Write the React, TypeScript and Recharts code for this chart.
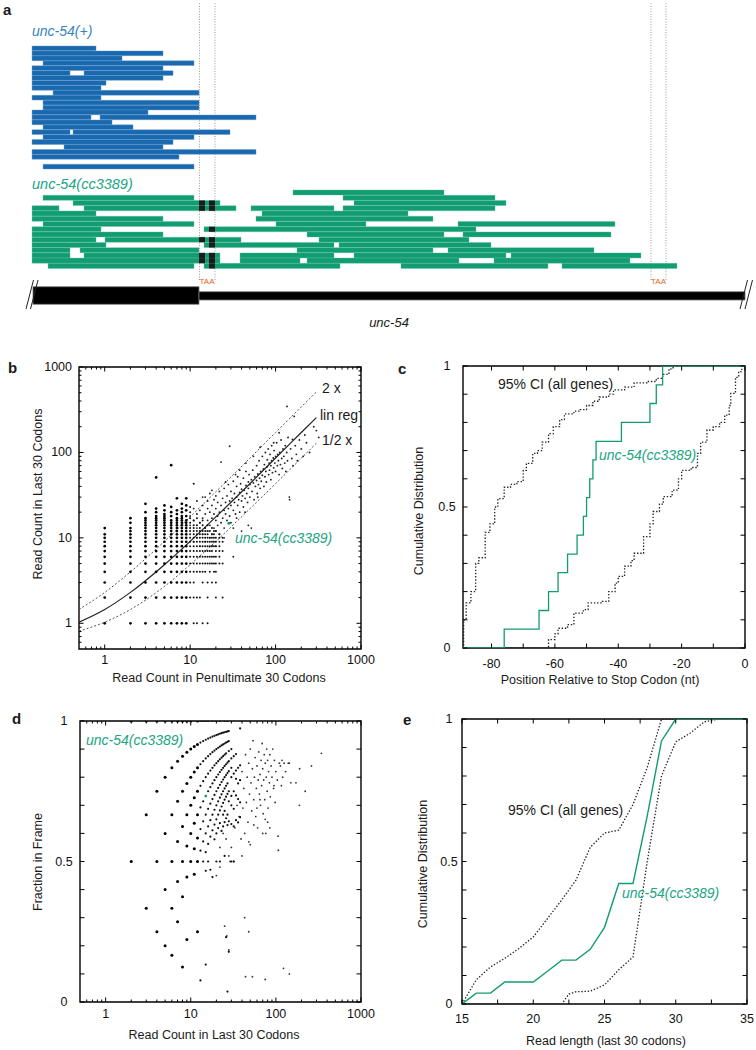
import React from 'react';
import { ComposedChart, Scatter, Line, XAxis, YAxis, ReferenceArea, ReferenceLine } from 'recharts';

const FONT = '"Liberation Sans", Arial, Helvetica, sans-serif';
const GREEN = '#129c72';
const GREEN_TEXT = '#22a582';
const BLUE = '#1a69ae';
const BLUE_TEXT = '#3683c4';
const ORANGE = '#e2661d';

// ---------------- panel a : read alignments ----------------
// [row, start, end] in genomic position units
const blueReads: number[][] = [
  [0, 32, 96], [1, 32, 163], [2, 32, 122], [3, 43, 194], [4, 32, 163],
  [5, 32, 70], [5, 84, 173], [6, 32, 163], [7, 32, 106], [8, 32, 101],
  [9, 53, 199], [10, 32, 101], [11, 43, 199], [12, 43, 199], [13, 32, 148],
  [14, 32, 91], [14, 100, 256], [15, 32, 112], [16, 43, 133], [17, 32, 70],
  [17, 73, 230], [18, 43, 194], [19, 32, 173], [20, 64, 163], [21, 32, 256],
  [22, 32, 179], [24, 43, 194],
];
const greenReads: number[][] = [
  [0, 293, 444],
  [1, 43, 194], [1, 343, 495],
  [2, 73, 220], [2, 354, 506],
  [3, 32, 59], [3, 84, 236], [3, 251, 334], [3, 343, 495],
  [4, 32, 96], [4, 262, 408],
  [5, 32, 163], [5, 256, 433],
  [6, 43, 194], [6, 276, 366], [6, 458, 615],
  [7, 32, 101], [7, 204, 476],
  [8, 32, 163], [8, 307, 444], [8, 463, 611],
  [9, 32, 96], [9, 105, 241], [9, 319, 469],
  [10, 32, 106], [10, 204, 334], [10, 339, 491],
  [11, 32, 70], [11, 80, 199], [11, 297, 433], [11, 448, 594],
  [12, 32, 70], [12, 84, 220], [12, 240, 334], [12, 354, 506], [12, 511, 641],
  [13, 32, 220], [13, 240, 300], [13, 307, 459], [13, 494, 630],
  [14, 48, 194], [14, 204, 340], [14, 401, 548], [14, 562, 677],
];
const greenMismatches: number[][] = [
  [2, 199, 205], [2, 209, 215], [3, 199, 205], [3, 209, 215], [7, 209, 215],
  [9, 199, 205], [9, 209, 215], [10, 209, 215], [12, 199, 205], [12, 209, 215],
  [13, 199, 205], [13, 209, 215], [14, 209, 215],
];
const stopCodonGuides = [199.5, 215, 651, 666];
const geneCds = [33, 199];
const geneUtr = [199, 745];
const geneBreaks = [26, 30.5, 740, 745];
const taaPositions = [207, 658.5];

// ---------------- panel b ----------------
const logTicks = [0.6, 0.7, 0.8, 0.9, 1, 2, 3, 4, 5, 6, 7, 8, 9, 10, 20, 30, 40, 50, 60, 70, 80, 90, 100, 200, 300, 400, 500, 600, 700, 800, 900, 1000];
const logMajor = [1, 10, 100, 1000];
const logLabels = [1, 10, 100, 1000];

const gridColumnsB: { x: number; ys: number[] }[] = [
  { x: 1, ys: [1, 2, 3, 4, 5, 6, 7, 8, 9, 10, 11, 13] },
  { x: 2, ys: [1, 2, 3, 4, 5, 6, 7, 8, 9, 10, 11, 12, 13, 15, 17] },
  { x: 3, ys: [1, 2, 3, 4, 5, 6, 7, 8, 9, 10, 11, 12, 13, 14, 15, 16, 17, 20, 25] },
  { x: 4, ys: [1, 2, 3, 4, 5, 6, 7, 8, 9, 10, 11, 12, 13, 14, 15, 16, 17, 18, 20, 22, 51] },
  { x: 5, ys: [1, 2, 3, 4, 5, 6, 7, 8, 9, 10, 11, 12, 13, 14, 15, 16, 17, 18, 19, 21, 24] },
  { x: 6, ys: [1, 2, 3, 4, 5, 6, 7, 8, 9, 10, 11, 12, 13, 14, 15, 16, 18, 20, 23, 71] },
  { x: 7, ys: [1, 2, 3, 4, 5, 6, 7, 8, 9, 10, 11, 12, 13, 14, 15, 16, 17, 19, 21, 29] },
  { x: 8, ys: [1, 2, 3, 4, 5, 6, 7, 8, 9, 10, 11, 12, 13, 14, 15, 16, 17, 18, 20, 22, 25] },
  { x: 9, ys: [1, 2, 3, 4, 5, 6, 7, 8, 9, 10, 11, 12, 13, 14, 15, 16, 18, 21, 24, 29] },
  { x: 10, ys: [2, 3, 4, 5, 6, 7, 8, 9, 10, 11, 12, 13, 15, 17, 20, 23] },
  { x: 11, ys: [1, 2, 3, 4, 5, 6, 7, 8, 9, 10, 11, 12, 13, 14, 16, 43] },
  { x: 12, ys: [1, 2, 4, 5, 6, 7, 8, 9, 10, 11, 12, 14, 17] },
  { x: 13, ys: [2, 4, 5, 6, 7, 8, 9, 10, 11, 12, 13, 15] },
  { x: 14, ys: [1, 3, 4, 5, 6, 7, 8, 9, 10, 11, 12, 14, 16] },
  { x: 15, ys: [4, 5, 6, 7, 8, 9, 10, 11, 12, 13] },
  { x: 16, ys: [1, 2, 3, 5, 6, 7, 8, 9, 10, 11, 12, 14] },
  { x: 17, ys: [4, 5, 6, 7, 8, 9, 10, 12] },
  { x: 18, ys: [3, 5, 6, 7, 8, 9, 10, 11, 13] },
  { x: 19, ys: [4, 5, 6, 8, 9, 10, 11, 12] },
  { x: 20, ys: [2, 3, 4, 5, 6, 7, 8, 9, 10, 12] },
  { x: 22, ys: [5, 6, 7, 8, 10, 11] },
  { x: 24, ys: [2, 5, 7, 9, 10] },
];
const cloudB: number[][] = [
  [10, 14], [10, 18], [11, 9], [11, 16], [11, 22], [12, 10], [12, 13], [12, 19], [12, 27], [13, 8], [13, 15], [13, 21],
  [14, 11], [14, 17], [14, 24], [15, 9], [15, 13], [15, 19], [15, 30], [16, 12], [16, 16], [16, 22], [16, 27], [17, 10],
  [17, 14], [17, 20], [17, 33], [18, 11], [18, 17], [18, 24], [19, 13], [19, 19], [19, 28], [20, 12], [20, 16], [20, 22],
  [20, 31], [21, 14], [21, 18], [21, 26], [22, 11], [22, 20], [22, 35], [23, 15], [23, 24], [24, 17], [24, 29], [25, 13],
  [25, 21], [25, 38], [26, 19], [26, 26], [27, 16], [27, 31], [28, 22], [28, 42], [29, 18], [29, 27], [30, 24], [30, 35],
  [30, 15], [31, 29], [32, 21], [32, 46], [33, 26], [33, 33], [34, 19], [35, 30], [35, 40], [36, 24], [36, 52], [37, 28],
  [38, 34], [38, 20], [39, 43], [40, 27], [40, 37], [41, 31], [42, 50], [42, 23], [43, 36], [44, 29], [45, 41], [45, 60],
  [46, 33], [47, 26], [48, 45], [48, 38], [49, 55], [50, 30], [50, 42], [52, 48], [53, 35], [54, 62], [55, 44], [56, 28],
  [57, 52], [58, 40], [60, 70], [60, 47], [61, 33], [62, 56], [63, 42], [64, 80], [65, 50], [66, 38], [67, 60], [68, 46],
  [70, 90], [70, 54], [72, 64], [73, 40], [74, 72], [75, 52], [76, 100], [77, 60], [78, 45], [80, 68], [80, 82], [82, 110],
  [83, 55], [84, 75], [85, 62], [86, 95], [88, 48], [88, 70], [90, 80], [90, 120], [92, 58], [94, 86], [95, 66], [96, 105],
  [98, 75], [100, 90], [100, 60], [103, 130], [105, 70], [106, 95], [108, 80], [110, 55], [112, 100], [114, 72], [116, 140],
  [118, 85], [120, 65], [122, 110], [125, 90], [128, 75], [130, 120], [132, 60], [135, 100], [138, 80], [140, 150], [145, 30],
  [146, 28], [150, 110], [155, 85], [158, 142], [160, 70], [165, 264], [170, 120], [175, 95], [180, 80], [190, 140], [200, 110],
  [210, 90], [220, 160], [230, 130], [250, 100], [280, 200], [136, 346], [300, 180], [320, 150], [29, 118], [23, 77],
  [32, 13], [40, 12], [48, 14], [52, 13], [32, 6], [20, 8], [22, 9], [25, 10], [18, 8], [35, 17], [44, 20], [62, 30],
  [26, 45], [18, 36], [14, 30], [55, 90], [66, 115], [95, 130], [110, 170], [45, 75], [38, 62], [34, 55],
];
const focalB = [{ x: 28.4, y: 14.8 }];
const fitX = [0.5, 1, 2, 5, 10, 20, 50, 100, 200, 300];
const linRegY = [1.03, 1.45, 2.3, 4.85, 9.1, 17.6, 43, 86, 171, 256];
const twoXY = [1.45, 2.3, 4.0, 9.1, 17.6, 34.6, 85.6, 171, 341, 510];
const halfXY = [0.81, 1.03, 1.45, 2.7, 4.85, 9.1, 21.9, 43.1, 85.6, 128];

// ---------------- panel c ----------------
const posTicks = [-80, -70, -60, -50, -40, -30, -20, -10, 0];
const posLabels = [-80, -60, -40, -20, 0];
const fracTicks = [0, 0.1, 0.2, 0.3, 0.4, 0.5, 0.6, 0.7, 0.8, 0.9, 1];
const fracLabels = [0, 0.5, 1];
const stopPosGreen: number[][] = [
  [-89, 0], [-76, 0.067], [-65, 0.133], [-62, 0.2], [-59, 0.267], [-56, 0.333], [-53, 0.4], [-51, 0.467],
  [-50, 0.533], [-49, 0.6], [-48, 0.667], [-47, 0.733], [-39, 0.8], [-30, 0.867], [-28, 0.933], [-26, 1], [0, 1],
];
const stopPosCiHigh: number[][] = [
  [-89, 0], [-88.8, 0.1], [-88, 0.16], [-86.5, 0.2], [-85, 0.3], [-84, 0.32], [-82, 0.41], [-80.5, 0.44], [-79, 0.5],
  [-78, 0.53], [-76, 0.57], [-74, 0.58], [-72, 0.59], [-70, 0.63], [-69, 0.655], [-67, 0.69], [-65.5, 0.7], [-64, 0.73],
  [-62, 0.76], [-60.5, 0.785], [-58.5, 0.81], [-57, 0.83], [-54, 0.84], [-52, 0.845], [-50, 0.86], [-48, 0.875],
  [-46, 0.89], [-43, 0.9], [-41.5, 0.915], [-38, 0.925], [-35, 0.94], [-31, 0.945], [-28, 0.956], [-26, 0.97],
  [-24, 0.99], [-22.7, 1], [0, 1],
];
const stopPosCiLow: number[][] = [
  [-89, 0], [-62, 0.03], [-60, 0.05], [-59, 0.07], [-56, 0.083], [-54, 0.124], [-51, 0.136], [-49.5, 0.16],
  [-45, 0.165], [-43, 0.2], [-41, 0.23], [-40, 0.254], [-38, 0.29], [-36, 0.31], [-35, 0.336], [-32, 0.395],
  [-30, 0.44], [-29, 0.484], [-27, 0.51], [-25.8, 0.537], [-23, 0.56], [-21, 0.6], [-20, 0.63], [-17, 0.64],
  [-15, 0.69], [-14, 0.73], [-12, 0.773], [-10, 0.785], [-8, 0.8], [-6.4, 0.826], [-5, 0.86], [-4.5, 0.903],
  [-3, 0.96], [-2, 0.98], [-1, 1], [0, 1],
];

// ---------------- panel d ----------------
const frameArcs: { n: number; k: number[] }[] = [
  { n: 2, k: [1, 2] },
  { n: 3, k: [1, 2, 3] },
  { n: 4, k: [1, 2, 3, 4] },
  { n: 5, k: [1, 2, 3, 4, 5] },
  { n: 6, k: [1, 2, 3, 4, 5, 6] },
  { n: 7, k: [2, 3, 4, 5, 6, 7] },
  { n: 8, k: [1, 3, 4, 5, 6, 7, 8] },
  { n: 9, k: [2, 4, 5, 6, 7, 8, 9] },
  { n: 10, k: [5, 6, 7, 8, 9, 10] },
  { n: 11, k: [5, 6, 7, 8, 9, 10] },
  { n: 12, k: [3, 6, 7, 8, 9, 10, 11, 12] },
];
const frameArcsHigh: { n: number; k: number[] }[] = [
  { n: 13, k: [1, 7, 8, 9, 10, 11, 12, 13] },
  { n: 14, k: [7, 8, 9, 10, 11, 12, 13, 14] },
  { n: 15, k: [2, 7, 8, 9, 10, 12, 13, 14, 15] },
  { n: 16, k: [8, 9, 10, 11, 12, 13, 14, 15, 16] },
  { n: 17, k: [8, 10, 11, 12, 13, 14, 15, 16] },
  { n: 18, k: [8, 11, 12, 13, 14, 15, 16, 17, 18] },
  { n: 19, k: [11, 12, 13, 14, 15, 16, 17, 18] },
  { n: 20, k: [10, 12, 13, 14, 15, 16, 17, 18, 19, 20] },
  { n: 21, k: [13, 14, 15, 16, 17, 18, 19, 20] },
  { n: 22, k: [11, 14, 15, 16, 17, 18, 19, 20, 21, 22] },
  { n: 23, k: [14, 16, 17, 18, 19, 20, 21, 22] },
  { n: 24, k: [15, 16, 17, 18, 19, 20, 21, 22, 23] },
  { n: 25, k: [13, 16, 17, 18, 19, 20, 21, 22, 23, 24, 25] },
  { n: 26, k: [6, 17, 19, 20, 21, 22, 23, 24, 25] },
  { n: 27, k: [1, 17, 18, 20, 21, 22, 23, 25, 26, 27] },
  { n: 28, k: [5, 18, 20, 21, 23, 24, 25, 26, 27] },
  { n: 30, k: [15, 19, 21, 22, 24, 25, 26, 27] },
  { n: 32, k: [16, 20, 22, 24, 26, 28] },
  { n: 34, k: [22, 25, 27, 28, 30] },
  { n: 36, k: [23, 26, 28, 30] },
  { n: 38, k: [25, 27, 30, 32, 37] },
];
const frameCloud: number[][] = [
  [40, 0.82], [42, 0.76], [44, 0.88], [45, 0.71], [46, 0.8], [47, 0.64], [48, 0.85], [49, 0.74], [50, 0.9], [51, 0.78],
  [52, 0.68], [53, 0.83], [54, 0.93], [55, 0.72], [56, 0.8], [57, 0.87], [58, 0.66], [59, 0.76], [60, 0.84], [61, 0.62],
  [62, 0.79], [63, 0.89], [64, 0.74], [65, 0.81], [66, 0.7], [67, 0.86], [68, 0.77], [69, 0.92], [70, 0.83], [71, 0.67],
  [72, 0.79], [73, 0.88], [74, 0.72], [75, 0.85], [76, 0.6], [77, 0.8], [78, 0.9], [79, 0.75], [80, 0.86], [81, 0.69],
  [82, 0.82], [84, 0.78], [85, 0.88], [86, 0.73], [88, 0.84], [90, 0.8], [92, 0.9], [94, 0.76], [96, 0.86], [98, 0.71],
  [100, 0.82], [104, 0.79], [107, 0.54], [110, 0.85], [113, 0.84], [116, 0.77], [120, 0.8], [125, 0.85], [130, 0.82],
  [140, 0.85], [144, 0.85], [150, 0.78], [190, 0.83], [172, 0.78], [189, 0.7], [221, 0.75], [262, 0.84], [343, 0.885],
  [106, 0.59], [32, 0.5], [33, 0.62], [35, 0.7], [37, 0.66], [39, 0.58], [40, 0.52], [41, 0.69], [43, 0.6], [48, 0.57],
  [50, 0.56], [55, 0.63], [60, 0.69], [65, 0.72], [70, 0.6], [75, 0.65], [80, 0.64], [85, 0.62], [26.5, 0.235],
  [28, 0.185], [43, 0.3], [48, 0.25], [44, 0.09], [53, 0.09], [75, 0.08], [123, 0.12], [144, 0.1], [25, 0.27],
  [22, 0.55], [24, 0.6], [26, 0.58], [28, 0.52], [29, 0.5], [30, 0.55], [20, 0.45], [22, 0.48], [118, 0.86], [95, 0.77],
];
const focalD = [{ x: 15, y: 0.733 }];

// ---------------- panel e ----------------
const lenTicks = [15, 17.5, 20, 22.5, 25, 27.5, 30, 32.5, 35];
const lenLabels = [15, 20, 25, 30, 35];
const lenGreen: number[][] = [
  [15, 0], [16, 0.038], [17, 0.038], [18, 0.077], [19, 0.077], [20, 0.077], [21, 0.115], [22, 0.154], [23, 0.154],
  [24, 0.192], [25, 0.269], [26, 0.423], [27, 0.423], [28, 0.66], [29, 0.923], [30, 1], [35, 1],
];
const lenCiHigh: number[][] = [
  [15, 0], [16, 0.085], [17, 0.13], [18, 0.16], [19, 0.195], [20, 0.235], [21, 0.3], [22, 0.365], [23, 0.435],
  [24, 0.55], [25, 0.6], [26, 0.61], [27, 0.7], [28, 0.83], [29, 1], [35, 1],
];
const lenCiLow: number[][] = [
  [15, 0], [22, 0], [22.5, 0.035], [23, 0.043], [24, 0.045], [25, 0.067], [26, 0.12], [27, 0.165], [28, 0.5],
  [29, 0.8], [30, 0.92], [31, 0.95], [32, 0.99], [33, 1], [35, 1],
];

// ---------------- helpers ----------------
const toXY = (arr: number[][]) => arr.map(([x, y]) => ({ x, y }));
const near = (list: number[], v: number) => list.some((m) => Math.abs(m - v) < 1e-9);

const dotShape = (r: number, fill: string) => (p: any) =>
  p.cx == null ? <g /> : <circle cx={p.cx} cy={p.cy} r={r} fill={fill} />;

type TxtProps = {
  x: number; y: number; children: React.ReactNode; size?: number; color?: string;
  italic?: boolean; bold?: boolean; anchor?: 'start' | 'middle'; rotate?: boolean;
};
const Txt = ({ x, y, children, size = 12.5, color = '#1a1a1a', italic, bold, anchor = 'start', rotate }: TxtProps) => (
  <div
    style={{
      position: 'absolute', left: x, top: y, whiteSpace: 'nowrap', lineHeight: 1, fontFamily: FONT,
      fontSize: size, color, fontStyle: italic ? 'italic' : 'normal', fontWeight: bold ? 700 : 400,
      transform: rotate ? 'translate(-50%,-50%) rotate(-90deg)' : anchor === 'middle' ? 'translate(-50%,-50%)' : 'translate(0,-50%)',
    }}
  >
    {children}
  </div>
);

const PAD_L = 60, PAD_R = 12, PAD_T = 12, PAD_B = 30;

type PanelProps = {
  left: number; top: number; w: number; h: number;
  xDomain: [number, number]; yDomain: [number, number];
  xLog?: boolean; yLog?: boolean;
  xTicks: number[]; xLabels: number[]; xMajor?: number[];
  yTicks: number[]; yLabels: number[]; yMajor?: number[];
  xDy: number; yDx: number; yAnchor: 'end' | 'middle';
  children?: React.ReactNode;
};

function Panel(props: PanelProps) {
  const { left, top, w, h, xDomain, yDomain, xLog, yLog, xTicks, xLabels, xMajor, yTicks, yLabels, yMajor, xDy, yDx, yAnchor } = props;
  const majorLen = 4.5, minorLen = 2.5;
  const xTick = (p: any) => {
    const { x, y, payload } = p;
    const v = payload.value;
    const L = !xMajor || near(xMajor, v) ? majorLen : minorLen;
    return (
      <g>
        <line x1={x} x2={x} y1={y} y2={y - L} stroke="#000" strokeWidth={1} />
        <line x1={x} x2={x} y1={y - h} y2={y - h + L} stroke="#000" strokeWidth={1} />
        {near(xLabels, v) && (
          <text x={x} y={y + xDy} textAnchor="middle" dominantBaseline="central" fontFamily={FONT} fontSize={12.5} fill="#111">
            {String(v)}
          </text>
        )}
      </g>
    );
  };
  const yTick = (p: any) => {
    const { x, y, payload } = p;
    const v = payload.value;
    const L = !yMajor || near(yMajor, v) ? majorLen : minorLen;
    return (
      <g>
        <line x1={x} x2={x + L} y1={y} y2={y} stroke="#000" strokeWidth={1} />
        <line x1={x + w} x2={x + w - L} y1={y} y2={y} stroke="#000" strokeWidth={1} />
        {near(yLabels, v) && (
          <text x={x - yDx} y={y} textAnchor={yAnchor} dominantBaseline="central" fontFamily={FONT} fontSize={12.5} fill="#111">
            {String(v)}
          </text>
        )}
      </g>
    );
  };
  return (
    <div style={{ position: 'absolute', left: left - PAD_L, top: top - PAD_T }}>
      <ComposedChart width={w + PAD_L + PAD_R} height={h + PAD_T + PAD_B} margin={{ top: PAD_T, right: PAD_R, bottom: 0, left: 0 }}>
        <XAxis
          type="number" dataKey="x" domain={xDomain} allowDataOverflow scale={xLog ? 'log' : 'linear'}
          ticks={xTicks} interval={0} tick={xTick} tickLine={false} axisLine={false} tickSize={0} tickMargin={0} height={PAD_B}
        />
        <YAxis
          type="number" dataKey="y" domain={yDomain} allowDataOverflow scale={yLog ? 'log' : 'linear'}
          ticks={yTicks} interval={0} tick={yTick} tickLine={false} axisLine={false} tickSize={0} tickMargin={0} width={PAD_L}
        />
        <ReferenceArea x1={xDomain[0]} x2={xDomain[1]} y1={yDomain[0]} y2={yDomain[1]} fill="none" stroke="#000" strokeWidth={1.4} ifOverflow="visible" />
        {props.children}
      </ComposedChart>
    </div>
  );
}

function ReadTrack({ reads, rows, top, height, fill, stroke, marks }: { reads: number[][]; rows: number; top: number; height: number; fill: string; stroke: string; marks?: number[][] }) {
  return (
    <div style={{ position: 'absolute', left: 0, top }}>
      <ComposedChart width={756} height={height} margin={{ top: 0, right: 0, bottom: 0, left: 0 }}>
        <XAxis type="number" dataKey="x" domain={[0, 756]} hide height={0} allowDataOverflow />
        <YAxis type="number" dataKey="y" domain={[0, rows]} reversed hide width={0} allowDataOverflow />
        {reads.map(([r, s, e], i) => (
          <ReferenceArea key={'r' + i} x1={s} x2={e} y1={r} y2={r + 0.97} fill={fill} fillOpacity={1} stroke={stroke} strokeWidth={0.4} ifOverflow="visible" />
        ))}
        {(marks || []).map(([r, s, e], i) => (
          <ReferenceArea key={'m' + i} x1={s} x2={e} y1={r} y2={r + 0.97} fill="#1b1b1b" fillOpacity={1} stroke="none" ifOverflow="visible" />
        ))}
      </ComposedChart>
    </div>
  );
}

export default function App() {
  const gridB = gridColumnsB.flatMap((c) => c.ys.map((y) => ({ x: c.x, y })));
  const gridBLow = gridB.filter((p) => p.x < 10);
  const gridBHigh = gridB.filter((p) => p.x >= 10);
  const cloudBData = toXY(cloudB);
  const fitLin = fitX.map((x, i) => ({ x, y: linRegY[i] }));
  const fitTwo = fitX.map((x, i) => ({ x, y: twoXY[i] }));
  const fitHalf = fitX.map((x, i) => ({ x, y: halfXY[i] }));
  const arcsLow = frameArcs.flatMap((c) => c.k.map((k) => ({ x: c.n, y: k / c.n })));
  const arcsHigh = frameArcsHigh.flatMap((c) => c.k.map((k) => ({ x: c.n, y: k / c.n })));
  const cloudD = toXY(frameCloud);

  return (
    <div style={{ position: 'absolute', left: 0, top: 0, width: 756, height: 1050, background: '#fff', overflow: 'hidden' }}>
      <style>{'.recharts-surface{overflow:visible}'}</style>

      {/* ---------- panel a ---------- */}
      <Txt x={3} y={9} size={15} bold>a</Txt>
      <div style={{ position: 'absolute', left: 0, top: 2 }}>
        <ComposedChart width={756} height={278} margin={{ top: 0, right: 0, bottom: 0, left: 0 }}>
          <XAxis type="number" dataKey="x" domain={[0, 756]} hide height={0} allowDataOverflow />
          <YAxis type="number" dataKey="y" domain={[0, 1]} hide width={0} allowDataOverflow />
          {stopCodonGuides.map((g) => (
            <ReferenceLine key={g} x={g} stroke="#9a9a9a" strokeWidth={1} strokeDasharray="1 1.6" />
          ))}
        </ComposedChart>
      </div>
      <Txt x={32} y={31} size={14} italic color={BLUE_TEXT}>unc-54(+)</Txt>
      <ReadTrack reads={blueReads} rows={25} top={45.7} height={123.2} fill={BLUE} stroke="#5f9bd2" />
      <Txt x={32} y={184} size={14.5} italic color={GREEN_TEXT}>unc-54(cc3389)</Txt>
      <ReadTrack reads={greenReads} rows={15} top={190} height={78.6} fill={GREEN} stroke="#5fbf9f" marks={greenMismatches} />
      {taaPositions.map((p) => (
        <Txt key={p} x={p} y={281.5} size={8} anchor="middle" color={ORANGE}>TAA</Txt>
      ))}
      <div style={{ position: 'absolute', left: 0, top: 276 }}>
        <ComposedChart width={756} height={40} margin={{ top: 0, right: 0, bottom: 0, left: 0 }}>
          <XAxis type="number" dataKey="x" domain={[0, 756]} hide height={0} allowDataOverflow />
          <YAxis type="number" dataKey="y" domain={[-0.665, 1.608]} hide width={0} allowDataOverflow />
          <ReferenceArea x1={geneCds[0]} x2={geneCds[1]} y1={0} y2={1} fill="#000" fillOpacity={1} stroke="#777" strokeWidth={0.8} />
          <ReferenceArea x1={geneUtr[0]} x2={geneUtr[1]} y1={0.244} y2={0.716} fill="#000" fillOpacity={1} stroke="#777" strokeWidth={0.8} />
          {geneBreaks.map((b) => (
            <ReferenceLine key={b} segment={[{ x: b, y: -0.27 }, { x: b + 7.5, y: 1.38 }]} stroke="#222" strokeWidth={1} ifOverflow="visible" />
          ))}
        </ComposedChart>
      </div>
      <Txt x={389} y={322} size={13} italic anchor="middle">unc-54</Txt>

      {/* ---------- panel b ---------- */}
      <Txt x={8} y={367} size={15} bold>b</Txt>
      <Panel
        left={79} top={367} w={282} h={282} xDomain={[0.5, 1000]} yDomain={[0.5, 1000]} xLog yLog
        xTicks={logTicks} xLabels={logLabels} xMajor={logMajor} yTicks={logTicks} yLabels={logLabels} yMajor={logMajor}
        xDy={10.5} yDx={7} yAnchor="end"
      >
        <Scatter data={gridBLow} fill="#000" shape={dotShape(1.35, '#000')} isAnimationActive={false} />
        <Scatter data={gridBHigh} fill="#111" shape={dotShape(1.0, '#111')} isAnimationActive={false} />
        <Scatter data={cloudBData} fill="#222" shape={dotShape(0.95, '#222')} isAnimationActive={false} />
        <Line data={fitTwo} dataKey="y" type="monotone" stroke="#555" strokeWidth={1} strokeDasharray="2 2" dot={false} isAnimationActive={false} />
        <Line data={fitHalf} dataKey="y" type="monotone" stroke="#555" strokeWidth={1} strokeDasharray="2 2" dot={false} isAnimationActive={false} />
        <Line data={fitLin} dataKey="y" type="monotone" stroke="#222" strokeWidth={1.2} dot={false} isAnimationActive={false} />
        <Scatter data={focalB} fill={GREEN} shape={dotShape(1.5, GREEN)} isAnimationActive={false} />
      </Panel>
      <Txt x={322} y={388} size={14}>2 x</Txt>
      <Txt x={320} y={415} size={14}>lin reg</Txt>
      <Txt x={322} y={440} size={14}>1/2 x</Txt>
      <Txt x={235} y={538} size={14} italic color={GREEN_TEXT}>unc-54(cc3389)</Txt>
      <Txt x={219} y={678} anchor="middle">Read Count in Penultimate 30 Codons</Txt>
      <Txt x={38} y={494} rotate>Read Count in Last 30 Codons</Txt>

      {/* ---------- panel c ---------- */}
      <Txt x={398} y={367.5} size={15} bold>c</Txt>
      <Panel
        left={463} top={366} w={282} h={282} xDomain={[-89, 0]} yDomain={[0, 1]}
        xTicks={posTicks} xLabels={posLabels} yTicks={fracTicks} yLabels={fracLabels}
        xDy={15.5} yDx={16} yAnchor="middle"
      >
        <Line data={toXY(stopPosCiHigh)} dataKey="y" type="stepAfter" stroke="#222" strokeWidth={1.3} strokeDasharray="1.4 1.8" dot={false} isAnimationActive={false} />
        <Line data={toXY(stopPosCiLow)} dataKey="y" type="stepAfter" stroke="#222" strokeWidth={1.3} strokeDasharray="1.4 1.8" dot={false} isAnimationActive={false} />
        <Line data={toXY(stopPosGreen)} dataKey="y" type="stepAfter" stroke={GREEN} strokeWidth={1.3} dot={false} isAnimationActive={false} />
      </Panel>
      <Txt x={498} y={383.5} size={14}>95% CI (all genes)</Txt>
      <Txt x={599} y={455} size={14} italic color={GREEN_TEXT}>unc-54(cc3389)</Txt>
      <Txt x={600} y={680} anchor="middle">Position Relative to Stop Codon (nt)</Txt>
      <Txt x={419} y={511} rotate>Cumulative Distribution</Txt>

      {/* ---------- panel d ---------- */}
      <Txt x={12} y={718} size={15} bold>d</Txt>
      <Panel
        left={80} top={721} w={281} h={281} xDomain={[0.5, 1000]} yDomain={[0, 1]} xLog
        xTicks={logTicks} xLabels={logLabels} xMajor={logMajor} yTicks={fracTicks} yLabels={fracLabels}
        xDy={11.5} yDx={16} yAnchor="middle"
      >
        <Scatter data={cloudD} fill="#333" shape={dotShape(0.9, '#333')} isAnimationActive={false} />
        <Scatter data={arcsHigh} fill="#111" shape={dotShape(1.1, '#111')} isAnimationActive={false} />
        <Scatter data={arcsLow} fill="#000" shape={dotShape(1.5, '#000')} isAnimationActive={false} />
        <Scatter data={focalD} fill={GREEN} shape={dotShape(1.4, GREEN)} isAnimationActive={false} />
      </Panel>
      <Txt x={86} y={740} size={14} italic color={GREEN_TEXT}>unc-54(cc3389)</Txt>
      <Txt x={214} y={1035} anchor="middle">Read Count in Last 30 Codons</Txt>
      <Txt x={38} y={862} rotate>Fraction in Frame</Txt>

      {/* ---------- panel e ---------- */}
      <Txt x={403} y={719} size={15} bold>e</Txt>
      <Panel
        left={462} top={719} w={285} h={285} xDomain={[15, 35]} yDomain={[0, 1]}
        xTicks={lenTicks} xLabels={lenLabels} yTicks={fracTicks} yLabels={fracLabels}
        xDy={14.5} yDx={13} yAnchor="middle"
      >
        <Line data={toXY(lenCiHigh)} dataKey="y" type="linear" stroke="#222" strokeWidth={1.3} strokeDasharray="1.4 1.8" dot={false} isAnimationActive={false} />
        <Line data={toXY(lenCiLow)} dataKey="y" type="linear" stroke="#222" strokeWidth={1.3} strokeDasharray="1.4 1.8" dot={false} isAnimationActive={false} />
        <Line data={toXY(lenGreen)} dataKey="y" type="linear" stroke={GREEN} strokeWidth={1.4} dot={false} isAnimationActive={false} />
      </Panel>
      <Txt x={508} y={810} size={14}>95% CI (all genes)</Txt>
      <Txt x={622} y={893} size={14} italic color={GREEN_TEXT}>unc-54(cc3389)</Txt>
      <Txt x={606} y={1041} anchor="middle">Read length (last 30 codons)</Txt>
      <Txt x={423} y={864} rotate>Cumulative Distribution</Txt>
    </div>
  );
}
